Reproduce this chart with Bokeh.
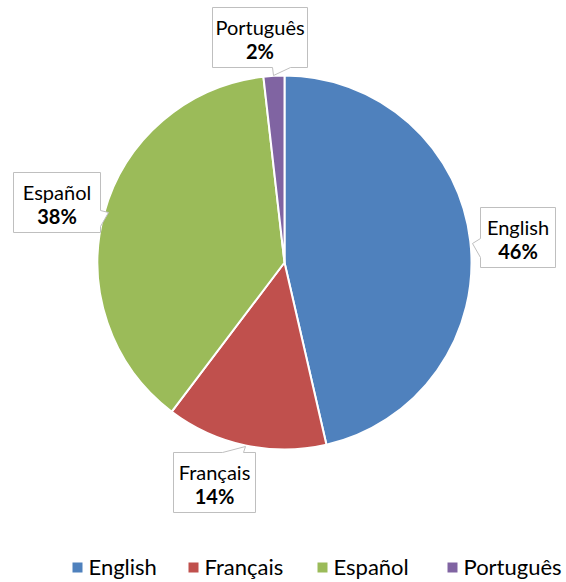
import numpy as np
from bokeh.plotting import figure
from bokeh.models import Range1d
from bokeh.core.properties import value
from bokeh.embed import file_html
from bokeh.resources import INLINE

# ---- data ----
categories = ["English", "Français", "Español", "Português"]
share = [46.4, 13.9, 37.9, 1.8]
colors = ["#4F81BD", "#C0504D", "#9BBB59", "#8064A2"]

# ---- layout (image pixel coords) ----
W, H = 566, 582
CX, CY, R = 284, 262, 187
# callout boxes: (x0, y0, x1, y1), pointer side, pointer base (a, b), tip (tx, ty)
callouts = {
    "English":   ((480, 207, 555, 267), "left",   (238, 257), (472, 243)),
    "Français":  ((173, 452, 255, 512), "top",    (222, 243), (245, 446)),
    "Español":   ((13, 172, 100, 232),  "right",  (210, 226), (108, 212)),
    "Português": ((212, 7, 307, 67),    "bottom", (272, 290), (273, 75)),
}
legend_square_x = [72, 188, 317, 447]
legend_y = 567

FONT = "Lato"


def Y(img_y):
    return H - img_y


p = figure(width=W, height=H, output_backend="svg", toolbar_location=None,
           x_range=Range1d(0, W), y_range=Range1d(0, H),
           min_border=0)
p.axis.visible = False
p.grid.visible = False
p.outline_line_color = None

# ---- pie ----
frac = np.array(share, dtype=float) / sum(share)
cum = np.concatenate([[0], np.cumsum(frac)])
start = np.pi / 2 - cum[:-1] * 2 * np.pi
end = np.pi / 2 - cum[1:] * 2 * np.pi
p.wedge(x=CX, y=Y(CY), radius=R, start_angle=list(start), end_angle=list(end),
        direction="clock", fill_color=colors, line_color="white", line_width=2)

# ---- callouts ----
for cat, f in zip(categories, frac):
    (x0, y0, x1, y1), side, (a, b), (tx, ty) = callouts[cat]
    if side == "left":
        pts = [(x0, y0), (x1, y0), (x1, y1), (x0, y1), (x0, b), (tx, ty), (x0, a)]
    elif side == "right":
        pts = [(x0, y0), (x1, y0), (x1, a), (tx, ty), (x1, b), (x1, y1), (x0, y1)]
    elif side == "top":
        pts = [(x0, y0), (a, y0), (tx, ty), (b, y0), (x1, y0), (x1, y1), (x0, y1)]
    else:
        pts = [(x0, y0), (x1, y0), (x1, y1), (b, y1), (tx, ty), (a, y1), (x0, y1)]
    p.patch([q[0] for q in pts], [Y(q[1]) for q in pts], fill_color="white",
            line_color="#BFBFBF", line_width=1)
    cx = (x0 + x1) / 2
    p.text(x=[cx], y=[Y(y0 + 19)], text=[cat], text_font=value(FONT),
           text_font_size="20px", text_align="center", text_baseline="middle",
           text_color="#000000")
    p.text(x=[cx], y=[Y(y0 + 43)], text=[f"{round(f * 100)}%"], text_font=value(FONT),
           text_font_size="20px", text_font_style="bold", text_align="center",
           text_baseline="middle", text_color="#000000")

# ---- legend ----
p.rect(x=[x + 5 for x in legend_square_x], y=[Y(legend_y)] * 4, width=10, height=10,
       fill_color=colors, line_color=None)
p.text(x=[x + 16 for x in legend_square_x], y=[Y(legend_y - 1)] * 4, text=categories,
       text_font=value(FONT), text_font_size="22px", text_align="left",
       text_baseline="middle", text_color="#000000")

open("out.html", "w").write(file_html(p, INLINE))
